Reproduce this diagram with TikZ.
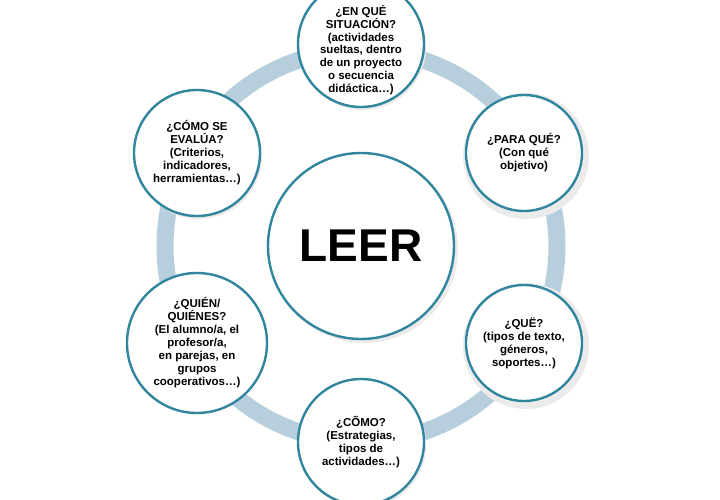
\documentclass[tikz,border=0pt]{standalone}
\usepackage{fontspec}
\setmainfont{Liberation Sans}
\definecolor{tealb}{RGB}{49,133,156}
\begin{document}
\begin{tikzpicture}[x=1pt,y=-1pt,
  sat/.style={circle,draw=tealb,line width=2.4pt,fill=white,minimum size=#1,inner sep=0pt,align=center,font=\bfseries\fontsize{11.5}{13}\selectfont},
  txt/.style={align=center,inner sep=0pt,font=\bfseries\fontsize{11.5}{12.8}\selectfont},
  shad/.style={fill=black!8}]
\useasboundingbox (0,0) rectangle (720,500);
\fill[white] (0,0) rectangle (720,500);
\draw[line width=17pt,color={rgb,255:red,183;green,207;blue,220}] (361,246) circle (196);
\fill[shad] (364,249) circle (94);
\node[sat=186pt,font=\bfseries\fontsize{46}{50}\selectfont] (c) at (361,246) {LEER};
\foreach \p in {(361,44),(524,153),(524,343),(361,442),(197,343),(197,153)} \fill[shad] \p ++(2,3) circle (63);
\node[sat=126pt] (a) at (361,44) {};
\node[txt,yshift=-6pt] (at) at (a.center) {¿EN QUÉ\\SITUACIÓN?\\(actividades\\sueltas, dentro\\de un proyecto\\o secuencia\\didáctica…)};
\node[sat=116pt] (b) at (524,153) {¿PARA QUÉ?\\(Con qué\\objetivo)};
\node[sat=116pt] (d) at (524,343) {¿QUË?\\(tipos de texto,\\géneros,\\soportes…)};
\node[sat=126pt] (e) at (361,442) {¿CÕMO?\\(Estrategias,\\tipos de\\actividades…)};
\node[sat=140pt] (f) at (197,343) {¿QUIÉN/\\QUIÉNES?\\(El alumno/a, el\\profesor/a,\\en parejas, en\\grupos\\cooperativos…)};
\node[sat=126pt] (g) at (197,153) {¿CÓMO SE\\EVALÚA?\\(Criterios,\\indicadores,\\herramientas…)};
\end{tikzpicture}
\end{document}
